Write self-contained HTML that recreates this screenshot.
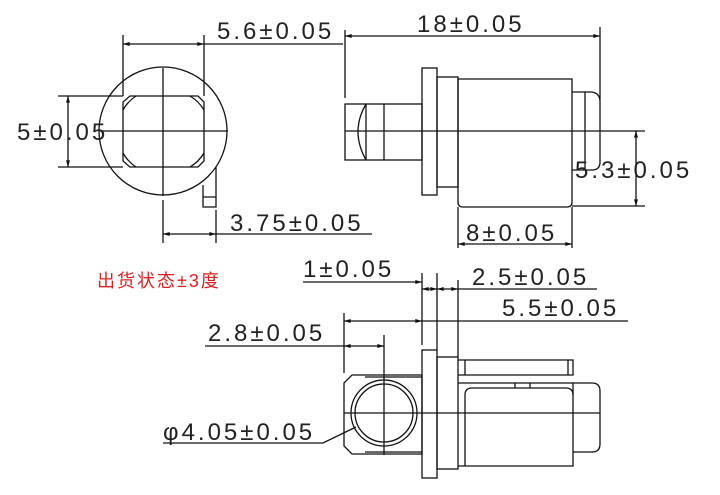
<!DOCTYPE html>
<html><head><meta charset="utf-8"><style>
html,body{margin:0;padding:0;background:#fff;width:720px;height:495px;overflow:hidden}
svg{display:block}
text{font-family:"Liberation Sans",sans-serif;font-size:24px;fill:#222;letter-spacing:3px}
</style></head><body>
<svg width="720" height="495" viewBox="0 0 720 495" xmlns="http://www.w3.org/2000/svg">
<defs>
<marker id="a" viewBox="0 0 10 6" refX="10" refY="3" markerWidth="10" markerHeight="4" orient="auto-start-reverse" markerUnits="userSpaceOnUse"><path d="M0,0L10,3L0,6z" fill="#111"/></marker>
</defs>
<g stroke="#111" stroke-width="1.3" fill="none">
<circle cx="163" cy="131" r="64"/>
<path d="M130,96H198L204,102V161L198,167H130L123,161V102Z"/>
<path d="M136,96A40,40 0 0 0 123,110M123,153A40,40 0 0 0 136,167M190,96A40,40 0 0 1 204,110M204,153A40,40 0 0 1 190,167"/>
<path d="M163,68V196M163,200V243M100,131H228"/>
<path d="M203,185V207H216V167M203,197H216"/>
<path d="M123,35V96M204,35V96"/>
<path d="M123,44H204" marker-start="url(#a)" marker-end="url(#a)"/>
<path d="M204,44H343"/>
<path d="M58,96H123M58,167H123"/>
<path d="M68,96V167" marker-start="url(#a)" marker-end="url(#a)"/>
<path d="M216,210V243"/>
<path d="M163,234H216" marker-start="url(#a)" marker-end="url(#a)"/>
<path d="M216,234H372"/>
<path d="M345,30V98M600,27V100"/>
<path d="M345,36H600" marker-start="url(#a)" marker-end="url(#a)"/>
<rect x="345" y="104" width="77" height="56"/>
<path d="M366,104V160M384,104V160M366,104Q350,131 366,160"/>
<rect x="422" y="68" width="15" height="127"/>
<rect x="437" y="77" width="21" height="110"/>
<path d="M458,79H572V202Q572,207 567,207H463Q458,207 458,202Z"/>
<path d="M572,92H590Q600,92 600,102V162Q600,170 592,170H572M585,92V170"/>
<path d="M345,131H645M572,206H645"/>
<path d="M636,131V206" marker-start="url(#a)" marker-end="url(#a)"/>
<path d="M458,207V248M572,207V248"/>
<path d="M458,244H572" marker-start="url(#a)" marker-end="url(#a)"/>
<path d="M303,282H422" marker-end="url(#a)"/>
<path d="M422,273V345M437,273V350M458,280V357"/>
<path d="M422,289H437" marker-start="url(#a)" marker-end="url(#a)"/>
<path d="M437,289H458" marker-start="url(#a)" marker-end="url(#a)"/>
<path d="M458,289H597"/>
<path d="M344,321H422" marker-start="url(#a)" marker-end="url(#a)"/>
<path d="M422,321H628"/>
<path d="M205,346H344"/>
<path d="M344,346H384" marker-start="url(#a)" marker-end="url(#a)"/>
<path d="M344,313V373M384,335V455"/>
<path d="M352,375H422V454H352L344,446V383Z"/>
<path d="M365,377H422M365,452H422"/>
<circle cx="384" cy="413" r="33"/>
<circle cx="384" cy="413" r="29"/>
<rect x="422" y="350" width="15" height="128"/>
<rect x="437" y="357" width="21" height="112"/>
<path d="M458,360H573V375H458M465,360V375M568,360V375"/>
<path d="M458,383H573V466H458"/>
<path d="M465,466V395Q465,388 472,388H566Q573,388 573,395"/>
<path d="M515,383V388M530,383V388"/>
<path d="M573,383H592Q600,383 600,391V444Q600,452 592,452H573"/>
<path d="M344,413H600"/>
<path d="M163,443H323L356,427" />
</g>
<g>
<text x="217" y="39">5.6±0.05</text>
<text x="17" y="140">5±0.05</text>
<text x="230" y="231">3.75±0.05</text>
<text x="417" y="32">18±0.05</text>
<text x="575" y="178">5.3±0.05</text>
<text x="466" y="241">8±0.05</text>
<text x="303" y="277">1±0.05</text>
<text x="472" y="285">2.5±0.05</text>
<text x="502" y="316">5.5±0.05</text>
<text x="208" y="341">2.8±0.05</text>
<text x="163" y="440">φ4.05±0.05</text>
<text x="97" y="287" style="font-family:'Liberation Sans','Noto Sans CJK SC',sans-serif;font-size:18px;letter-spacing:2px;fill:#e02020">出货状态±3度</text>
</g>
</svg>
</body></html>
